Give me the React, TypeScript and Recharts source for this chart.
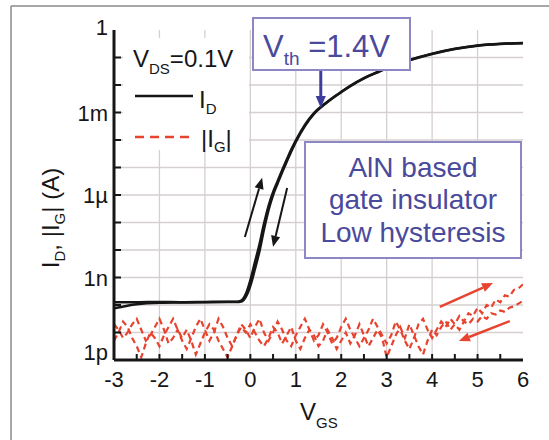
import { LineChart, Line, XAxis, YAxis, ReferenceLine } from "recharts";

const INK = "#161616";
const RED = "#e8432e";
const BLUE_TXT = "#4a4a9c";
const BLUE_EDGE = "#8d87c6";
const GRID = "#d6cfcf";
const FONT = "'Liberation Sans', Arial, sans-serif";

// axes
const Y_TICKS = [1e-12, 1e-11, 1e-10, 1e-9, 1e-8, 1e-7, 1e-6, 1e-5, 1e-4, 1e-3, 1e-2, 1e-1, 1];
const Y_LABELS: Record<number, string> = { 0: "1", [-3]: "1m", [-6]: "1µ", [-9]: "1n", [-12]: "1p" };
const X_TICKS = [-3, -2.5, -2, -1.5, -1, -0.5, 0, 0.5, 1, 1.5, 2, 2.5, 3, 3.5, 4, 4.5, 5, 5.5, 6];
const X_GRID = [-2, -1, 0, 1, 2, 3, 4, 5];
const Y_GRID = [1e-11, 1e-10, 1e-9, 1e-8, 1e-7, 1e-6, 1e-5, 1e-4, 1e-3, 1e-2, 1e-1];

// I_D (log10 A), forward and reverse sweep
const ID_V = [-3, -2.5, -2, -1.5, -1, -0.5, -0.3, -0.2, -0.1, 0, 0.1, 0.2, 0.3, 0.4, 0.5, 0.6, 0.7, 0.8, 0.9, 1.0, 1.2, 1.4, 1.6, 1.8, 2.0, 2.2, 2.5, 2.85, 3.0, 3.5, 4.0, 4.5, 5.0, 5.5, 6.0];
const ID_FWD_EXP = [-9.9, -9.9, -9.89, -9.9, -9.89, -9.88, -9.88, -9.84, -9.6, -9.1, -8.45, -7.8, -7.05, -6.4, -5.9, -5.5, -5.1, -4.72, -4.35, -4.02, -3.45, -3.02, -2.73, -2.48, -2.25, -2.03, -1.75, -1.49, -1.38, -1.09, -0.86, -0.68, -0.56, -0.5, -0.47];
const ID_REV_EXP = [-10.12, -9.97, -9.92, -9.91, -9.9, -9.89, -9.89, -9.87, -9.7, -9.3, -8.7, -8.05, -7.25, -6.55, -6.0, -5.58, -5.17, -4.79, -4.42, -4.07, -3.49, -3.05, -2.75, -2.49, -2.26, -2.04, -1.76, -1.5, -1.39, -1.1, -0.87, -0.69, -0.57, -0.51, -0.48];

// |I_G| (log10 A), 0.1 V sweep steps
const IG_V = [
  -3.0, -2.9, -2.8, -2.7, -2.6, -2.5, -2.4, -2.3, -2.2, -2.1,
  -2.0, -1.9, -1.8, -1.7, -1.6, -1.5, -1.4, -1.3, -1.2, -1.1,
  -1.0, -0.9, -0.8, -0.7, -0.6, -0.5, -0.4, -0.3, -0.2, -0.1,
  0.0, 0.1, 0.2, 0.3, 0.4, 0.5, 0.6, 0.7, 0.8, 0.9,
  1.0, 1.1, 1.2, 1.3, 1.4, 1.5, 1.6, 1.7, 1.8, 1.9,
  2.0, 2.1, 2.2, 2.3, 2.4, 2.5, 2.6, 2.7, 2.8, 2.9,
  3.0, 3.1, 3.2, 3.3, 3.4, 3.5, 3.6, 3.7, 3.8, 3.9,
  4.0, 4.1, 4.2, 4.3, 4.4, 4.5, 4.6, 4.7, 4.8, 4.9,
  5.0, 5.1, 5.2, 5.3, 5.4, 5.5, 5.6, 5.7, 5.8, 5.9,
  6.0,
];
const IG_FWD_EXP = [
  -10.7, -10.9, -11.2, -11.0, -10.7, -10.5, -10.9, -11.3, -11.1, -10.8,
  -10.5, -10.9, -11.4, -11.2, -10.9, -11.3, -11.6, -11.2, -10.8, -10.5,
  -10.9, -11.3, -11.0, -10.5, -10.8, -11.2, -11.5, -11.1, -10.7, -10.9,
  -11.2, -10.8, -10.5, -11.0, -11.3, -11.0, -10.6, -10.9, -11.3, -11.5,
  -11.1, -10.8, -10.5, -10.9, -11.3, -11.1, -10.7, -11.0, -11.4, -11.2,
  -10.8, -10.5, -10.9, -11.2, -11.5, -11.2, -10.9, -10.5, -10.8, -11.1,
  -11.4, -11.1, -10.6, -10.9, -11.3, -11.6, -11.2, -10.7, -10.5, -10.9,
  -11.2, -10.9, -10.6, -10.8, -10.5, -10.7, -10.4, -10.6, -10.3, -10.4,
  -10.1, -10.3, -10.0, -10.1, -9.8, -9.9, -9.65, -9.7, -9.45, -9.4,
  -9.25,
];
const IG_REV_EXP = [
  -11.3, -11.0, -10.6, -10.8, -11.2, -11.5, -11.9, -11.4, -11.0, -11.2,
  -11.5, -11.1, -10.8, -10.5, -10.9, -11.2, -10.9, -11.3, -11.8, -11.4,
  -11.0, -10.7, -10.9, -11.3, -11.6, -11.9, -11.5, -11.1, -10.8, -11.0,
  -10.7, -11.0, -11.3, -11.5, -11.2, -10.8, -11.0, -11.4, -11.1, -10.8,
  -11.3, -11.6, -11.2, -10.9, -11.1, -11.5, -11.3, -10.9, -11.2, -11.6,
  -11.3, -11.0, -11.4, -11.1, -10.7, -11.1, -11.5, -11.2, -10.9, -11.2,
  -11.9, -11.5, -11.1, -10.8, -11.2, -10.7, -11.1, -11.5, -11.8, -11.3,
  -10.9, -11.1, -10.8, -10.6, -10.9, -10.7, -10.9, -10.6, -10.7, -10.5,
  -10.6, -10.4, -10.5, -10.3, -10.35, -10.2, -10.25, -10.1, -10.05, -9.95,
  -9.85,
];

// annotation arrows: [from, to] in (V, A)
const ARROW_UP = [{ x: -0.12, y: 2.95e-8 }, { x: 0.26, y: 4.2e-6 }];
const ARROW_DOWN = [{ x: 0.81, y: 1.8e-6 }, { x: 0.5, y: 1.3e-8 }];
const ARROW_VTH = [{ x: 1.55, y: 3.5e-2 }, { x: 1.55, y: 1.45e-3 }];
const ARROW_IG_UP = [{ x: 4.17, y: 8.5e-11 }, { x: 5.34, y: 6.3e-10 }];
const ARROW_IG_DOWN = [{ x: 5.71, y: 2.6e-11 }, { x: 4.59, y: 4.9e-12 }];

const toPts = (vs: number[], es: number[]) => vs.map((v, k) => ({ v, i: Math.pow(10, es[k]) }));
const idFwd = toPts(ID_V, ID_FWD_EXP);
const idRev = toPts(ID_V, ID_REV_EXP);
const igFwd = toPts(IG_V, IG_FWD_EXP);
const igRev = toPts(IG_V, IG_REV_EXP);

const arrowShape = (color: string, w: number, head = 10) => (p: any) => {
  const { x1, y1, x2, y2 } = p;
  const a = Math.atan2(y2 - y1, x2 - x1);
  const hw = head * 0.42;
  const bx = x2 - head * Math.cos(a);
  const by = y2 - head * Math.sin(a);
  const pts = `${x2},${y2} ${bx - hw * Math.sin(a)},${by + hw * Math.cos(a)} ${bx + hw * Math.sin(a)},${by - hw * Math.cos(a)}`;
  return (
    <g>
      <line x1={x1} y1={y1} x2={bx} y2={by} stroke={color} strokeWidth={w} />
      <polygon points={pts} fill={color} />
    </g>
  );
};

function LeftTick({ x, y, payload }: any) {
  const e = Math.round(Math.log10(payload.value));
  const label = Y_LABELS[e];
  const dy = e === 0 ? -3 : e === -12 ? -8 : 0;
  return (
    <g>
      {e !== 0 && e !== -12 && <line x1={x} y1={y} x2={x + 7} y2={y} stroke={INK} strokeWidth={2} />}
      {label && (
        <text x={x - 6} y={y + dy + 8} textAnchor="end" fontSize={22} fill={INK} fontFamily={FONT}>
          {label}
        </text>
      )}
    </g>
  );
}

function RightTick({ x, y, payload }: any) {
  const e = Math.round(Math.log10(payload.value));
  if (e === 0 || e === -12) return <g />;
  return <line x1={x} y1={y} x2={x - 7} y2={y} stroke={INK} strokeWidth={2} />;
}

function BottomTick({ x, y, payload }: any) {
  const v = payload.value;
  const isInt = Number.isInteger(v);
  return (
    <g>
      {v > -3 && v < 6 && <line x1={x} y1={y} x2={x} y2={y - 6} stroke={INK} strokeWidth={2} />}
      {isInt && (
        <text x={x} y={y + 27} textAnchor="middle" fontSize={22} fill={INK} fontFamily={FONT}>
          {v}
        </text>
      )}
    </g>
  );
}

function TopTick({ x, y, payload }: any) {
  const v = payload.value;
  if (v <= -3 || v >= 6) return <g />;
  return <line x1={x} y1={y} x2={x} y2={y + 6} stroke={INK} strokeWidth={2} />;
}

export default function App() {
  return (
    <div style={{ position: "absolute", left: 0, top: 0, width: 549, height: 440, background: "#fff" }}>
      <LineChart width={549} height={440} margin={{ top: 30, right: 26, bottom: 40, left: 54 }}>
        <XAxis
          xAxisId={0}
          dataKey="v"
          type="number"
          domain={[-3, 6]}
          ticks={X_TICKS}
          interval={0}
          allowDataOverflow
          height={40}
          tickSize={0}
          tickMargin={0}
          tick={<BottomTick />}
          axisLine={{ stroke: INK, strokeWidth: 3 }}
        />
        <XAxis
          xAxisId="top"
          orientation="top"
          dataKey="v"
          type="number"
          domain={[-3, 6]}
          ticks={X_TICKS}
          interval={0}
          allowDataOverflow
          height={0}
          tickSize={0}
          tickMargin={0}
          tick={<TopTick />}
          axisLine={{ stroke: INK, strokeWidth: 3 }}
        />
        <YAxis
          yAxisId={0}
          dataKey="i"
          type="number"
          scale="log"
          domain={[1e-12, 1]}
          ticks={Y_TICKS}
          interval={0}
          allowDataOverflow
          width={60}
          tickSize={0}
          tickMargin={0}
          tick={<LeftTick />}
          axisLine={{ stroke: INK, strokeWidth: 3 }}
        />
        <YAxis
          yAxisId="r"
          orientation="right"
          dataKey="i"
          type="number"
          scale="log"
          domain={[1e-12, 1]}
          ticks={Y_TICKS}
          interval={0}
          allowDataOverflow
          width={0}
          tickSize={0}
          tickMargin={0}
          tick={<RightTick />}
          axisLine={{ stroke: INK, strokeWidth: 3 }}
        />

        {X_GRID.map(g => (
          <ReferenceLine key={`gx${g}`} x={g} stroke={GRID} strokeWidth={1.3} />
        ))}
        {Y_GRID.map(g => (
          <ReferenceLine key={`gy${g}`} y={g} stroke={GRID} strokeWidth={1.3} />
        ))}

        <Line data={igRev} dataKey="i" type="linear" stroke={RED} strokeWidth={2.2} strokeDasharray="6 4" dot={false} isAnimationActive={false} />
        <Line data={igFwd} dataKey="i" type="linear" stroke={RED} strokeWidth={2.2} strokeDasharray="6 4" dot={false} isAnimationActive={false} />
        <Line data={idRev} dataKey="i" type="monotone" stroke={INK} strokeWidth={2.5} dot={false} isAnimationActive={false} />
        <Line data={idFwd} dataKey="i" type="monotone" stroke={INK} strokeWidth={2.5} dot={false} isAnimationActive={false} />

        <ReferenceLine segment={ARROW_UP} ifOverflow="visible" shape={arrowShape(INK, 2, 11)} />
        <ReferenceLine segment={ARROW_DOWN} ifOverflow="visible" shape={arrowShape(INK, 2, 11)} />
        <ReferenceLine segment={ARROW_IG_UP} ifOverflow="visible" shape={arrowShape(RED, 2.5, 11)} />
        <ReferenceLine segment={ARROW_IG_DOWN} ifOverflow="visible" shape={arrowShape(RED, 2.5, 11)} />
        <ReferenceLine segment={ARROW_VTH} ifOverflow="visible" shape={arrowShape("#3d3d9c", 3, 12)} />
      </LineChart>

      <svg
        width={549}
        height={440}
        style={{ position: "absolute", left: 0, top: 0, pointerEvents: "none" }}
        fontFamily={FONT}
      >
        {/* figure frame */}
        <line x1={11} y1={6} x2={11} y2={440} stroke="#8a8a8a" strokeWidth={1.5} />
        <line x1={11} y1={6} x2={549} y2={6} stroke="#8a8a8a" strokeWidth={1.5} />

        {/* legend */}
        <rect x={123} y={38} width={126} height={112} fill="#fff" />
        <text x={133} y={67} fontSize={24} fill={INK}>
          V<tspan fontSize={15} dy={7}>DS</tspan>
          <tspan dy={-7}>=0.1V</tspan>
        </text>
        <line x1={135} y1={96} x2={193} y2={96} stroke={INK} strokeWidth={2.5} />
        <text x={199} y={108} fontSize={24} fill={INK}>
          I<tspan fontSize={15} dy={6}>D</tspan>
        </text>
        <line x1={135} y1={137} x2={190} y2={137} stroke={RED} strokeWidth={2.5} strokeDasharray="9 6" />
        <text x={201} y={147} fontSize={24} fill={INK}>
          |I<tspan fontSize={15} dy={5}>G</tspan>
          <tspan dy={-5}>|</tspan>
        </text>

        {/* Vth box */}
        <rect x={253} y={18} width={157} height={52} fill="#fff" stroke={BLUE_EDGE} strokeWidth={2} />
        <text x={263} y={57} fontSize={31} fill={BLUE_TXT}>
          V<tspan fontSize={19} dy={8}>th</tspan>
          <tspan dy={-8}> =1.4V</tspan>
        </text>

        {/* AlN box */}
        <rect x={305} y={142} width={216} height={116} fill="#fff" stroke={BLUE_EDGE} strokeWidth={2} />
        <text x={413} y={177} fontSize={28} fill={BLUE_TXT} textAnchor="middle">AlN based</text>
        <text x={413} y={209} fontSize={28} fill={BLUE_TXT} textAnchor="middle">gate insulator</text>
        <text x={413} y={242} fontSize={28} fill={BLUE_TXT} textAnchor="middle">Low hysteresis</text>

        {/* axis titles */}
        <text transform="translate(59,218) rotate(-90)" fontSize={24} fill={INK} textAnchor="middle">
          I<tspan fontSize={15} dy={6}>D</tspan>
          <tspan dy={-6}>, |I</tspan>
          <tspan fontSize={15} dy={6}>G</tspan>
          <tspan dy={-6}>| (A)</tspan>
        </text>
        <text x={300} y={420} fontSize={24} fill={INK}>
          V<tspan fontSize={15} dy={8}>GS</tspan>
        </text>
      </svg>
    </div>
  );
}
